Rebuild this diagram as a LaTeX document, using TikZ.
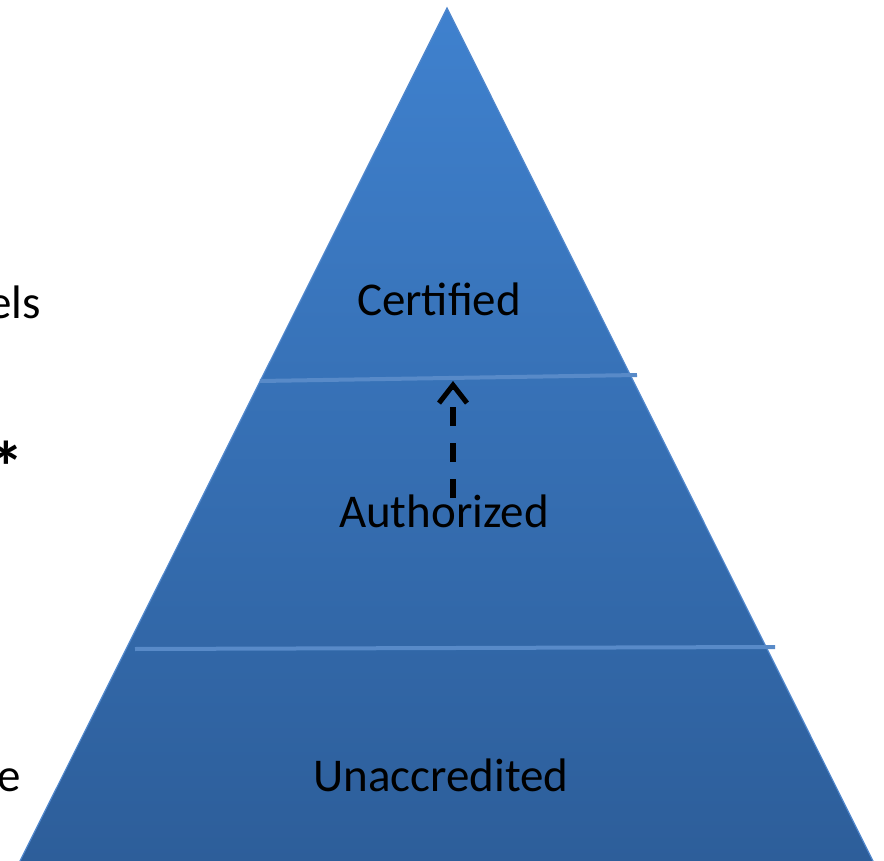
\documentclass[tikz,border=0pt]{standalone}
\usepackage{fontspec}
\setmainfont{Carlito}
\usetikzlibrary{arrows.meta}
\definecolor{pyrtop}{RGB}{63,129,206}
\definecolor{pyrbot}{RGB}{45,94,154}
\definecolor{pyredge}{RGB}{80,135,205}
\definecolor{divline}{RGB}{88,138,200}
\tikzset{
  lbl/.style={font=\fontsize{47}{56}\selectfont, text=black, inner sep=0pt, anchor=base},
  sidetext/.style={font=\fontsize{47}{56}\selectfont, text=black, inner sep=0pt, anchor=base east},
  divider/.style={draw=divline, line width=4pt},
  upflow/.style={draw=black, line width=5.5pt, dash pattern=on 19pt off 17pt,
    -{Straight Barb[length=18pt,width=28pt,line width=5pt]}}
}
\begin{document}
\begin{tikzpicture}[x=1pt,y=-1pt]
\useasboundingbox (0,0) rectangle (884,861);
% pyramid
\coordinate (apex) at (447,8);
\coordinate (bl) at (20,861);
\coordinate (br) at (873,861);
\shade[top color=pyrtop, bottom color=pyrbot] (apex) -- (br) -- (bl) -- cycle;
\draw[pyredge, line width=1.2pt] (bl) -- (apex) -- (br);
% dividers
\coordinate (d1l) at (260,381);
\coordinate (d1r) at (637,375);
\coordinate (d2l) at (135,649);
\coordinate (d2r) at (775,647);
\draw[divider] (d1l) -- (d1r);
\draw[divider] (d2l) -- (d2r);
% labels
\node[lbl] (cert) at (439,316) {Certified};
\node[lbl] (auth) at (444,527) {Authorized};
\node[lbl] (unac) at (441,791) {Unaccredited};
% cut-off left text
\node[sidetext] (l1) at (41,318) {els};
\node[font=\bfseries\fontsize{72}{80}\selectfont, text=black, inner sep=0pt, anchor=east] (l2) at (25,467) {*};
\node[sidetext] (l3) at (21,791) {e};
% dashed arrow
\coordinate (astart) at (453,498);
\coordinate (aend) at (453,381);
\draw[upflow] (astart) -- (aend);
\end{tikzpicture}
\end{document}
